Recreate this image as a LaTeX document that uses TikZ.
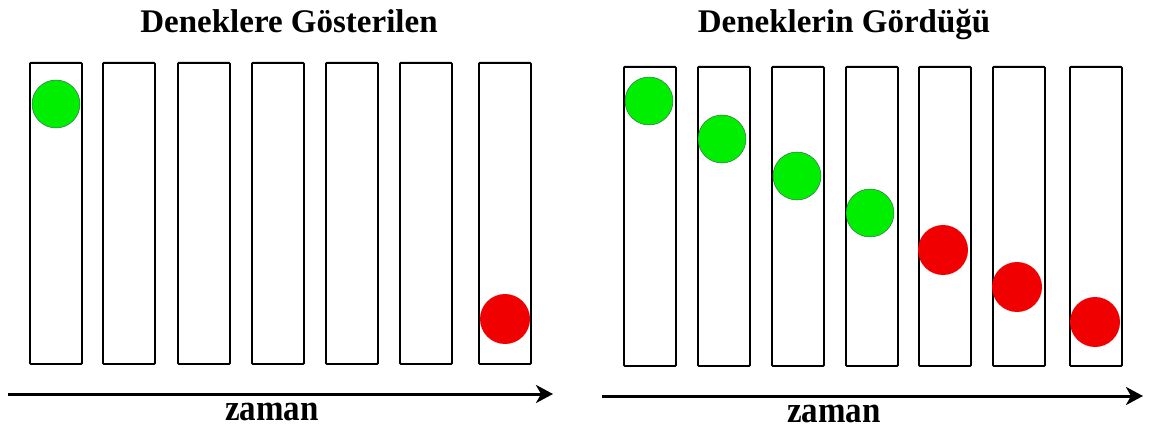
\documentclass[tikz,border=0pt]{standalone}
\usepackage{fontspec}
\setmainfont{Liberation Serif}
\usetikzlibrary{arrows.meta}
\definecolor{ballgreen}{RGB}{0,238,0}
\definecolor{ballred}{RGB}{240,0,0}
\definecolor{ballrim}{RGB}{40,90,70}
\tikzset{
  slot/.style={draw=black, line width=1.8pt, rounded corners=0.8pt, minimum width=52pt, minimum height=#1, inner sep=0pt, anchor=north west},
  gball/.style={circle, fill=ballgreen, draw=ballrim, line width=0.4pt, minimum size=48pt, inner sep=0pt},
  rball/.style={circle, fill=ballred, minimum size=50pt, inner sep=0pt},
  timearrow/.style={line width=3pt, -{Stealth[length=17pt,width=18pt,inset=5pt]}},
  title/.style={font=\bfseries\fontsize{33}{36}\selectfont, inner sep=0pt},
  axislabel/.style={font=\bfseries\fontsize{33}{36}\selectfont, inner sep=0pt}
}
\begin{document}
\begin{tikzpicture}[x=1pt,y=-1pt]
\useasboundingbox (0,0) rectangle (1150,430);
% titles
\node[title, anchor=base] (t1) at (289,33) {Deneklere Gösterilen};
\node[title, anchor=base] (t2) at (844,33) {Deneklerin Gördüğü};
% left slots
\foreach \x [count=\i] in {29,102,177,251,325,399,478}
  \node[slot=301pt] (L\i) at (\x,62) {};
% right slots
\foreach \x [count=\i] in {623,697,771,845,918,992,1069}
  \node[slot=299pt] (R\i) at (\x,66) {};
% left balls
\node[gball] (lg) at (56,104) {};
\node[rball] (lr) at (505,319) {};
% right balls
\node[gball] (rg1) at (649,101) {};
\node[gball] (rg2) at (722,139) {};
\node[gball] (rg3) at (797,176) {};
\node[gball] (rg4) at (870,213) {};
\node[rball] (rr1) at (943,250) {};
\node[rball] (rr2) at (1017,287) {};
\node[rball] (rr3) at (1095,322) {};
% time arrows
\coordinate (a1s) at (8,394);
\coordinate (a1e) at (553,394);
\coordinate (a2s) at (602,396);
\coordinate (a2e) at (1143,396);
\draw[timearrow] (a1s) -- (a1e);
\draw[timearrow] (a2s) -- (a2e);
\node[axislabel, anchor=base] (z1) at (272,420) {\scalebox{1}[1.12]{zaman}};
\node[axislabel, anchor=base] (z2) at (834,422) {\scalebox{1}[1.12]{zaman}};
\end{tikzpicture}
\end{document}
